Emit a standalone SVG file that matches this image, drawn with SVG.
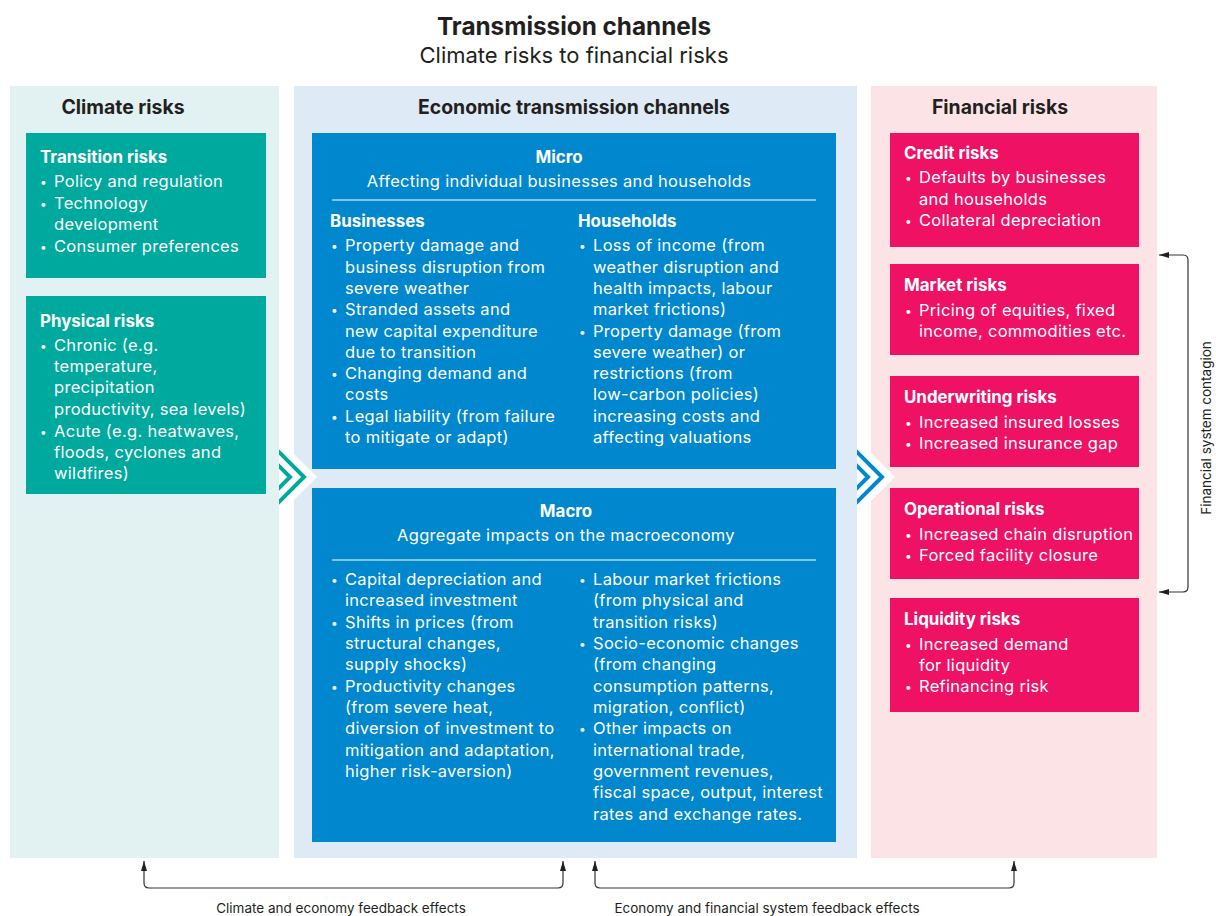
<svg xmlns="http://www.w3.org/2000/svg" width="1216" height="916" viewBox="0 0 1216 916">
  <style>
    text { font-family: Inter, "Open Sans", "Liberation Sans", sans-serif; }
    .title { font-size: 24.3px; font-weight: 700; fill: #231f20; text-anchor: middle; }
    .subtitle { font-size: 22px; fill: #231f20; text-anchor: middle; }
    .phead { font-size: 19.4px; font-weight: 700; fill: #231f20; text-anchor: middle; }
    .bh { font-size: 16.9px; font-weight: 700; fill: #ffffff; }
    .bt { font-size: 16.5px; letter-spacing: 0.3px; fill: #ffffff; }
    .dot { font-size: 12px; fill: #ffffff; }
    .ctr { text-anchor: middle; }
    .note { font-size: 13.5px; fill: #231f20; text-anchor: middle; }
    .conn { fill: none; stroke: #333333; stroke-width: 1.2; }
    .sep { stroke: #ffffff; stroke-width: 1.2; }
  </style>
  <defs>
    <marker id="head" viewBox="0 0 10 6" refX="10" refY="3" markerWidth="10" markerHeight="6" markerUnits="userSpaceOnUse" orient="auto-start-reverse">
      <path d="M0,0 L10,3 L0,6 z" fill="#231f20"/>
    </marker>
    <clipPath id="clipL"><rect x="279" y="430" width="60" height="100"/></clipPath>
    <clipPath id="clipR"><rect x="857" y="430" width="60" height="100"/></clipPath>
  </defs>

  <!-- heading -->
  <g id="heading">
    <text class="title" x="574" y="35">Transmission channels</text>
    <text class="subtitle" x="574" y="63">Climate risks to financial risks</text>
  </g>

  <!-- column backgrounds -->
  <g id="panels">
    <rect x="10" y="86" width="269" height="772" fill="#e2f1f1"/>
    <rect x="294" y="86" width="563" height="772" fill="#deeaf6"/>
    <rect x="871" y="86" width="286" height="772" fill="#fce4e6"/>
    <text class="phead" x="123" y="114">Climate risks</text>
    <text class="phead" x="574" y="114">Economic transmission channels</text>
    <text class="phead" x="1000" y="114">Financial risks</text>
  </g>

  <!-- climate risks -->
  <g id="transition-risks">
    <rect x="26" y="133" width="240" height="145" fill="#00a99d"/>
    <text class="bh" x="40" y="163">Transition risks</text>
    <text class="dot" x="40" y="186">•</text><text class="bt" x="54" y="187">Policy and regulation</text>
    <text class="dot" x="40" y="208">•</text><text class="bt" x="54" y="209">Technology</text>
    <text class="bt" x="54" y="230">development</text>
    <text class="dot" x="40" y="251">•</text><text class="bt" x="54" y="252">Consumer preferences</text>
  </g>
  <g id="physical-risks">
    <rect x="26" y="296" width="240" height="198" fill="#00a99d"/>
    <text class="bh" x="40" y="327">Physical risks</text>
    <text class="dot" x="40" y="350">•</text><text class="bt" x="54" y="351">Chronic (e.g.</text>
    <text class="bt" x="54" y="372">temperature,</text>
    <text class="bt" x="54" y="393">precipitation</text>
    <text class="bt" x="54" y="415">productivity, sea levels)</text>
    <text class="dot" x="40" y="436">•</text><text class="bt" x="54" y="437">Acute (e.g. heatwaves,</text>
    <text class="bt" x="54" y="458">floods, cyclones and</text>
    <text class="bt" x="54" y="479">wildfires)</text>
  </g>

  <!-- economic channels -->
  <g id="micro">
    <rect x="312" y="133" width="524" height="336" fill="#0087cd"/>
    <text class="bh ctr" x="559" y="163">Micro</text>
    <text class="bt ctr" x="559" y="187">Affecting individual businesses and households</text>
    <line class="sep" x1="332" y1="200" x2="816" y2="200"/>
    <text class="bh" x="330" y="227">Businesses</text>
    <text class="dot" x="331" y="250">•</text><text class="bt" x="345" y="251">Property damage and</text>
    <text class="bt" x="345" y="273">business disruption from</text>
    <text class="bt" x="345" y="294">severe weather</text>
    <text class="dot" x="331" y="314">•</text><text class="bt" x="345" y="315">Stranded assets and</text>
    <text class="bt" x="345" y="337">new capital expenditure</text>
    <text class="bt" x="345" y="358">due to transition</text>
    <text class="dot" x="331" y="378">•</text><text class="bt" x="345" y="379">Changing demand and</text>
    <text class="bt" x="345" y="400">costs</text>
    <text class="dot" x="331" y="421">•</text><text class="bt" x="345" y="422">Legal liability (from failure</text>
    <text class="bt" x="345" y="443">to mitigate or adapt)</text>
    <text class="bh" x="578" y="227">Households</text>
    <text class="dot" x="579" y="250">•</text><text class="bt" x="593" y="251">Loss of income (from</text>
    <text class="bt" x="593" y="273">weather disruption and</text>
    <text class="bt" x="593" y="294">health impacts, labour</text>
    <text class="bt" x="593" y="315">market frictions)</text>
    <text class="dot" x="579" y="336">•</text><text class="bt" x="593" y="337">Property damage (from</text>
    <text class="bt" x="593" y="358">severe weather) or</text>
    <text class="bt" x="593" y="379">restrictions (from</text>
    <text class="bt" x="593" y="400">low-carbon policies)</text>
    <text class="bt" x="593" y="422">increasing costs and</text>
    <text class="bt" x="593" y="443">affecting valuations</text>
  </g>
  <g id="macro">
    <rect x="312" y="488" width="524" height="354" fill="#0087cd"/>
    <text class="bh ctr" x="566" y="517">Macro</text>
    <text class="bt ctr" x="566" y="541">Aggregate impacts on the macroeconomy</text>
    <line class="sep" x1="332" y1="560" x2="816" y2="560"/>
    <text class="dot" x="331" y="584">•</text><text class="bt" x="345" y="585">Capital depreciation and</text>
    <text class="bt" x="345" y="606">increased investment</text>
    <text class="dot" x="331" y="627">•</text><text class="bt" x="345" y="628">Shifts in prices (from</text>
    <text class="bt" x="345" y="649">structural changes,</text>
    <text class="bt" x="345" y="670">supply shocks)</text>
    <text class="dot" x="331" y="691">•</text><text class="bt" x="345" y="692">Productivity changes</text>
    <text class="bt" x="345" y="713">(from severe heat,</text>
    <text class="bt" x="345" y="734">diversion of investment to</text>
    <text class="bt" x="345" y="756">mitigation and adaptation,</text>
    <text class="bt" x="345" y="777">higher risk-aversion)</text>
    <text class="dot" x="579" y="584">•</text><text class="bt" x="593" y="585">Labour market frictions</text>
    <text class="bt" x="593" y="606">(from physical and</text>
    <text class="bt" x="593" y="628">transition risks)</text>
    <text class="dot" x="579" y="648">•</text><text class="bt" x="593" y="649">Socio-economic changes</text>
    <text class="bt" x="593" y="670">(from changing</text>
    <text class="bt" x="593" y="692">consumption patterns,</text>
    <text class="bt" x="593" y="713">migration, conflict)</text>
    <text class="dot" x="579" y="733">•</text><text class="bt" x="593" y="734">Other impacts on</text>
    <text class="bt" x="593" y="756">international trade,</text>
    <text class="bt" x="593" y="777">government revenues,</text>
    <text class="bt" x="593" y="798">fiscal space, output, interest</text>
    <text class="bt" x="593" y="820">rates and exchange rates.</text>
  </g>

  <!-- financial risks -->
  <g id="credit-risks">
    <rect x="890" y="133" width="249" height="114" fill="#ee1164"/>
    <text class="bh" x="904" y="159">Credit risks</text>
    <text class="dot" x="905" y="182">•</text><text class="bt" x="919" y="183">Defaults by businesses</text>
    <text class="bt" x="919" y="205">and households</text>
    <text class="dot" x="905" y="225">•</text><text class="bt" x="919" y="226">Collateral depreciation</text>
  </g>
  <g id="market-risks">
    <rect x="890" y="264" width="249" height="91" fill="#ee1164"/>
    <text class="bh" x="904" y="291">Market risks</text>
    <text class="dot" x="905" y="315">•</text><text class="bt" x="919" y="316">Pricing of equities, fixed</text>
    <text class="bt" x="919" y="337">income, commodities etc.</text>
  </g>
  <g id="underwriting-risks">
    <rect x="890" y="376" width="249" height="91" fill="#ee1164"/>
    <text class="bh" x="904" y="403">Underwriting risks</text>
    <text class="dot" x="905" y="427">•</text><text class="bt" x="919" y="428">Increased insured losses</text>
    <text class="dot" x="905" y="448">•</text><text class="bt" x="919" y="449">Increased insurance gap</text>
  </g>
  <g id="operational-risks">
    <rect x="890" y="488" width="249" height="91" fill="#ee1164"/>
    <text class="bh" x="904" y="515">Operational risks</text>
    <text class="dot" x="905" y="539">•</text><text class="bt" x="919" y="540">Increased chain disruption</text>
    <text class="dot" x="905" y="560">•</text><text class="bt" x="919" y="561">Forced facility closure</text>
  </g>
  <g id="liquidity-risks">
    <rect x="890" y="598" width="249" height="114" fill="#ee1164"/>
    <text class="bh" x="904" y="625">Liquidity risks</text>
    <text class="dot" x="905" y="649">•</text><text class="bt" x="919" y="650">Increased demand</text>
    <text class="bt" x="919" y="671">for liquidity</text>
    <text class="dot" x="905" y="691">•</text><text class="bt" x="919" y="692">Refinancing risk</text>
  </g>

  <!-- flow chevrons between columns -->
  <g id="chevron-climate-economy">
    <polygon points="279,447 287,447 317,477 287,507 279,507" fill="#ffffff"/>
    <g clip-path="url(#clipL)" fill="none" stroke="#00a99d" stroke-width="4">
      <polyline points="266,439 304,477 266,515"/>
      <polyline points="266,453 290,477 266,501"/>
    </g>
  </g>
  <g id="chevron-economy-financial">
    <polygon points="857,447 865,447 895,477 865,507 857,507" fill="#ffffff"/>
    <g clip-path="url(#clipR)" fill="none" stroke="#0087cd" stroke-width="4">
      <polyline points="844,439 882,477 844,515"/>
      <polyline points="844,453 868,477 844,501"/>
    </g>
  </g>

  <!-- feedback connectors -->
  <g id="connectors">
    <path class="conn" d="M144,861 V883 Q144,888 149,888 H558 Q563,888 563,883 V861" marker-start="url(#head)" marker-end="url(#head)"/>
    <path class="conn" d="M595,861 V883 Q595,888 600,888 H1009 Q1014,888 1014,883 V861" marker-start="url(#head)" marker-end="url(#head)"/>
    <path class="conn" d="M1159,255 H1183 Q1188,255 1188,260 V587 Q1188,592 1183,592 H1159" marker-start="url(#head)" marker-end="url(#head)"/>
    <text class="note" x="341" y="913">Climate and economy feedback effects</text>
    <text class="note" x="767" y="913">Economy and financial system feedback effects</text>
    <text class="note" transform="translate(1211,428) rotate(-90)">Financial system contagion</text>
  </g>
</svg>
